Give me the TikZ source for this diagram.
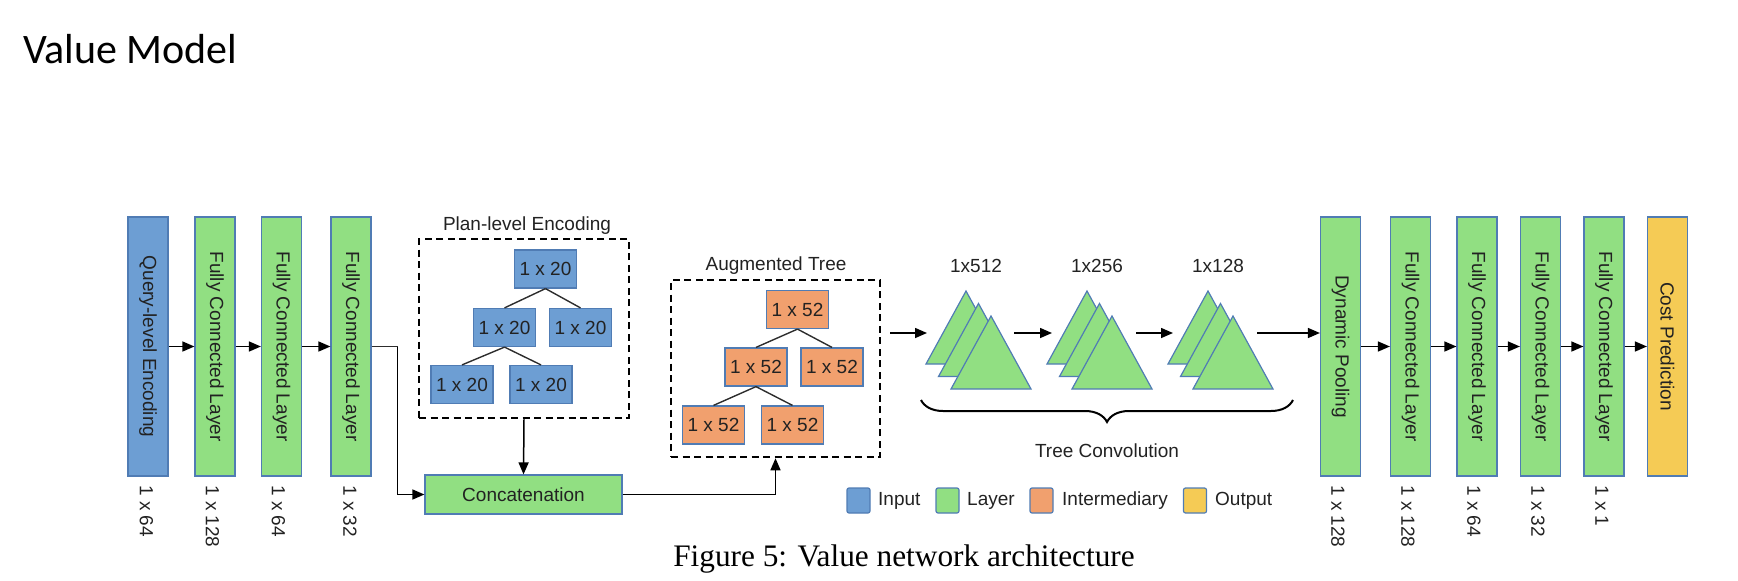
\documentclass[tikz,border=0pt]{standalone}
\usepackage{fontspec}
\usepackage{graphicx}
\setmainfont{Liberation Sans}
\newfontfamily\titlefont{Carlito}
\newfontfamily\capfont{Liberation Serif}
\usetikzlibrary{arrows.meta,decorations.pathreplacing}
\definecolor{bfill}{RGB}{109,158,211}
\definecolor{gfill}{RGB}{145,223,130}
\definecolor{ofill}{RGB}{241,160,110}
\definecolor{yfill}{RGB}{245,203,85}
\definecolor{bord}{RGB}{80,124,180}
\definecolor{txt}{RGB}{34,34,34}
\definecolor{lin}{RGB}{45,45,45}
\tikzset{
  bar/.style={draw=bord, line width=1.2pt, minimum width=40pt, minimum height=259pt, inner sep=0pt, text=txt},
  inbar/.style={bar, fill=bfill},
  gbar/.style={bar, fill=gfill},
  ybar/.style={bar, fill=yfill},
  dimlabel/.style={rotate=-90, anchor=west, inner sep=0pt, text=txt},
  tnode/.style={draw=bord, line width=1.2pt, minimum width=62pt, minimum height=38pt, inner sep=0pt, text=txt},
  bnode/.style={tnode, fill=bfill},
  onode/.style={tnode, fill=ofill},
  group/.style={draw=black, line width=2.5pt, dash pattern=on 7pt off 4.5pt},
  arr/.style={draw=black, line width=1.5pt, -{Triangle[length=12pt,width=10pt]}},
  conn/.style={draw=lin, line width=1.5pt},
  edge/.style={draw=lin, line width=1.4pt},
  legsq/.style={draw=bord, line width=1.2pt, rounded corners=2pt, minimum width=23pt, minimum height=25pt, inner sep=0pt},
  legtxt/.style={anchor=west, inner sep=0pt, text=txt},
  tri/.style={draw=bord, line width=1.2pt, fill=gfill, line join=miter},
  tstack/.pic={
    \foreach \k in {2,1,0}{
      \path[tri] (-12.5*\k,-12.5*\k) -- ++(80,0) -- ++(-40,-73) -- cycle;
    }
  }
}
\begin{document}
\begin{tikzpicture}[x=1pt,y=-1pt, font=\fontsize{19}{22}\selectfont]
\useasboundingbox (0,0) rectangle (1738,581);

% title and caption
\node[anchor=base west, inner sep=0pt, font=\titlefont\fontsize{42}{48}\selectfont] (title) at (23,63) {Value Model};
\node[anchor=base, inner sep=0pt, font=\capfont\fontsize{31.3}{36}\selectfont] (caption) at (904,566) {Figure 5: Value network architecture};

% left bars
\node[inbar] (q) at (148,346.5) {\rotatebox{-90}{Query-level Encoding}};
\node[gbar] (f1) at (215,346.5) {\rotatebox{-90}{Fully Connected Layer}};
\node[gbar] (f2) at (281.5,346.5) {\rotatebox{-90}{Fully Connected Layer}};
\node[gbar] (f3) at (351,346.5) {\rotatebox{-90}{Fully Connected Layer}};

\node[dimlabel] (lq) at (146.5,485) {1 x 64};
\node[dimlabel] (l1) at (212.5,485) {1 x 128};
\node[dimlabel] (l2) at (278.5,485) {1 x 64};
\node[dimlabel] (l3) at (350,485) {1 x 32};

\draw[arr] (q.east) -- (f1.west);
\draw[arr] (f1.east) -- (f2.west);
\draw[arr] (f2.east) -- (f3.west);

% plan-level encoding
\node[group, minimum width=210pt, minimum height=179pt, inner sep=0pt] (plan) at (524,328.5) {};
\node[text=txt, inner sep=0pt] (plant) at (527,226) {Plan-level Encoding};
\node[bnode] (p1) at (545.5,269) {1 x 20};
\node[bnode] (p2) at (504.5,327.5) {1 x 20};
\node[bnode] (p3) at (580.5,327.5) {1 x 20};
\node[bnode] (p4) at (462,384.5) {1 x 20};
\node[bnode] (p5) at (541,384.5) {1 x 20};
\draw[edge] (p1.south) -- (p2.north);
\draw[edge] (p1.south) -- (p3.north);
\draw[edge] (p2.south) -- (p4.north);
\draw[edge] (p2.south) -- (p5.north);

% concatenation
\node[draw=bord, line width=1.2pt, fill=gfill, minimum width=197pt, minimum height=39pt, inner sep=0pt, text=txt] (cat) at (523.5,494.5) {Concatenation};
\coordinate (bend) at (397.5,346.5);
\draw[conn] (f3.east) -- (bend);
\draw[arr] (bend) |- (cat.west);
\draw[arr] (plan.south) -- (cat.north);

% augmented tree
\node[group, minimum width=209pt, minimum height=177pt, inner sep=0pt] (aug) at (775.5,368.5) {};
\node[text=txt, inner sep=0pt] (augt) at (776,266) {Augmented Tree};
\node[onode] (a1) at (797.5,309.5) {1 x 52};
\node[onode] (a2) at (756,367) {1 x 52};
\node[onode] (a3) at (832,367) {1 x 52};
\node[onode] (a4) at (713.5,425) {1 x 52};
\node[onode] (a5) at (792.5,425) {1 x 52};
\draw[edge] (a1.south) -- (a2.north);
\draw[edge] (a1.south) -- (a3.north);
\draw[edge] (a2.south) -- (a4.north);
\draw[edge] (a2.south) -- (a5.north);
\draw[arr] (cat.east) -| (aug.south);

% tree convolution
\pic at (951,389) {tstack};
\pic at (1072,389) {tstack};
\pic at (1193,389) {tstack};
\node[text=txt, inner sep=0pt] (d1) at (976,266) {1x512};
\node[text=txt, inner sep=0pt] (d2) at (1097,266) {1x256};
\node[text=txt, inner sep=0pt] (d3) at (1218,266) {1x128};
\coordinate (c0) at (890,333);
\coordinate (c1) at (927,333);
\coordinate (c2) at (1014,333);
\coordinate (c3) at (1052,333);
\coordinate (c4) at (1136,333);
\coordinate (c5) at (1173,333);
\coordinate (c6) at (1257,333);
\draw[arr] (c0) -- (c1);
\draw[arr] (c2) -- (c3);
\draw[arr] (c4) -- (c5);
\draw[decorate, decoration={brace, amplitude=22pt, mirror}, line width=2pt] (921,400) -- (1293,400);
\node[text=txt, inner sep=0pt] (tc) at (1107,451) {Tree Convolution};

% right bars
\node[gbar] (dp) at (1340.5,346.5) {\rotatebox{-90}{Dynamic Pooling}};
\node[gbar] (g1) at (1410.5,346.5) {\rotatebox{-90}{Fully Connected Layer}};
\node[gbar] (g2) at (1477,346.5) {\rotatebox{-90}{Fully Connected Layer}};
\node[gbar] (g3) at (1540.5,346.5) {\rotatebox{-90}{Fully Connected Layer}};
\node[gbar] (g4) at (1604,346.5) {\rotatebox{-90}{Fully Connected Layer}};
\node[ybar] (cp) at (1667.5,346.5) {\rotatebox{-90}{Cost Prediction}};
\draw[arr] (c6) -- (c6 -| dp.west);
\draw[arr] (dp.east) -- (g1.west);
\draw[arr] (g1.east) -- (g2.west);
\draw[arr] (g2.east) -- (g3.west);
\draw[arr] (g3.east) -- (g4.west);
\draw[arr] (g4.east) -- (cp.west);

\node[dimlabel] (ldp) at (1338,485) {1 x 128};
\node[dimlabel] (lg1) at (1408,485) {1 x 128};
\node[dimlabel] (lg2) at (1474,485) {1 x 64};
\node[dimlabel] (lg3) at (1538,485) {1 x 32};
\node[dimlabel] (lg4) at (1602,485) {1 x 1};

% legend
\node[legsq, fill=bfill] (s1) at (858.5,500.5) {};
\node[legtxt] (t1) at (878,500.5) {Input};
\node[legsq, fill=gfill] (s2) at (947.5,500.5) {};
\node[legtxt] (t2) at (967,500.5) {Layer};
\node[legsq, fill=ofill] (s3) at (1041.5,500.5) {};
\node[legtxt] (t3) at (1062,500.5) {Intermediary};
\node[legsq, fill=yfill] (s4) at (1195,500.5) {};
\node[legtxt] (t4) at (1215,500.5) {Output};
\end{tikzpicture}
\end{document}
